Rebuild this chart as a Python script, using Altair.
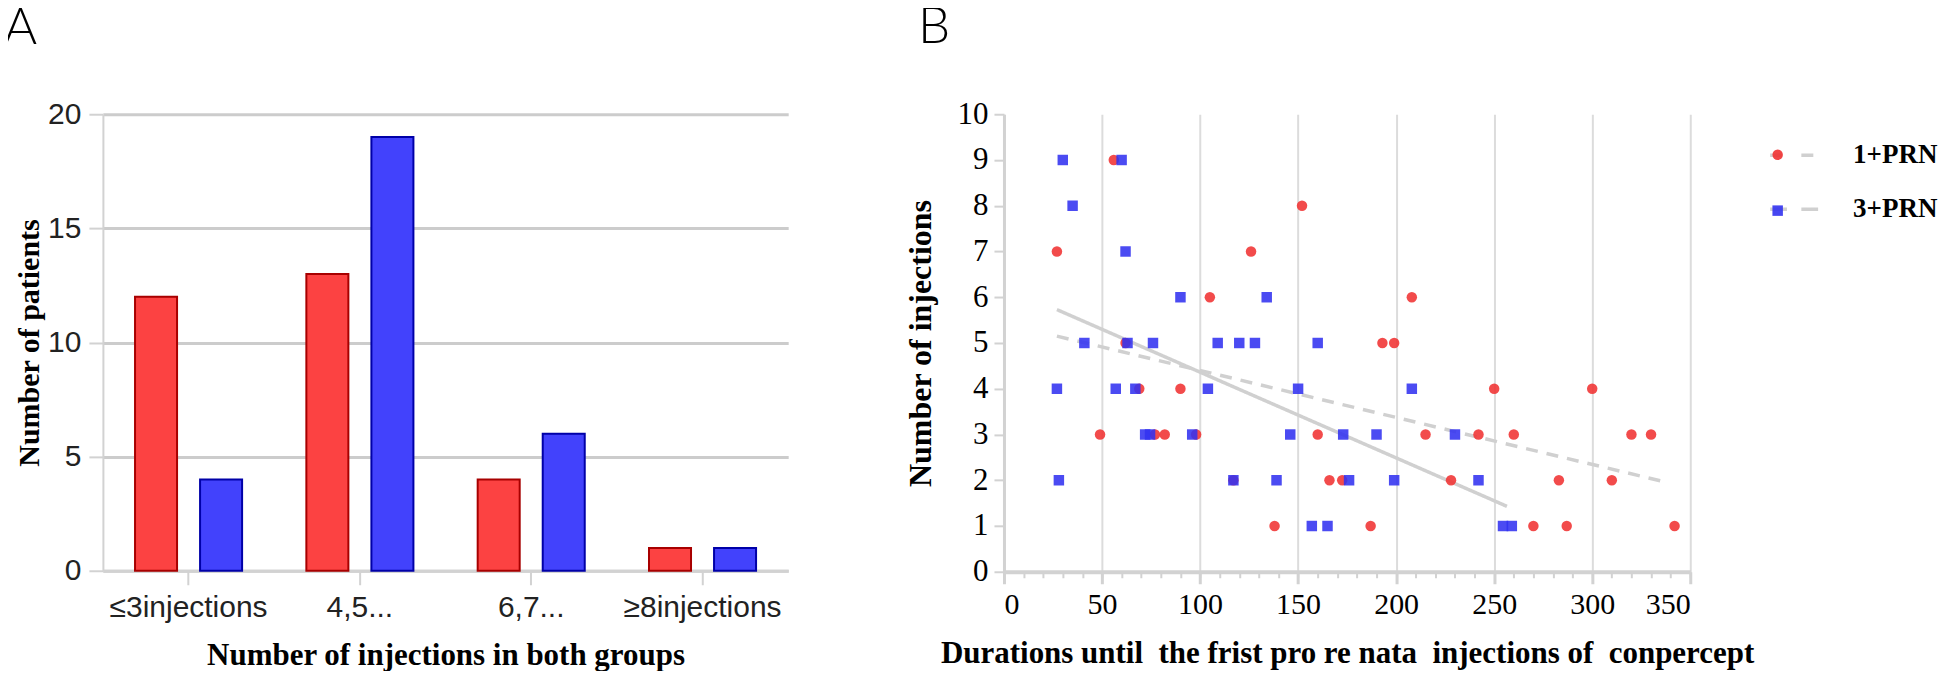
import altair as alt
import pandas as pd

# ---------------- data ----------------
categories = ["≤3injections", "4,5...", "6,7...", "≥8injections"]
groups = ["1+PRN", "3+PRN"]
patients_1prn = [12, 13, 4, 1]
patients_3prn = [4, 19, 6, 1]

days_1prn = [56, 152, 27, 126, 105, 208, 62, 193, 199, 69, 90, 250, 300,
             49, 77, 82, 98, 160, 215, 242, 260, 320, 330,
             117, 166, 172.5, 228, 283, 310, 138, 187, 270, 287, 342]
inj_1prn = [9, 8, 7, 7, 6, 6, 5, 5, 5, 4, 4, 4, 4,
            3, 3, 3, 3, 3, 3, 3, 3, 3, 3,
            2, 2, 2, 2, 2, 2, 1, 1, 1, 1, 1]
days_3prn = [30, 60, 35, 62, 90, 134, 41, 63, 76, 109, 120, 128, 160,
             27, 57, 67, 104, 150, 208, 72, 74.5, 96, 146, 173, 190, 230,
             28, 117, 139, 176, 199, 242, 157, 165, 254.5, 259]
inj_3prn = [9, 9, 8, 7, 6, 6, 5, 5, 5, 5, 5, 5, 5,
            4, 4, 4, 4, 4, 4, 3, 3, 3, 3, 3, 3, 3,
            2, 2, 2, 2, 2, 2, 1, 1, 1, 1]

trend_days_1prn = [27, 338.5]
trend_inj_1prn = [5.15, 1.95]
trend_days_3prn = [27, 256.5]
trend_inj_3prn = [5.73, 1.43]

x_major = [0, 50, 100, 150, 200, 250, 300, 350]
x_minor = list(range(0, 351, 10))
y_ticks_b = list(range(0, 11))
y_ticks_a = [0, 5, 10, 15, 20]

title_a_x = "Number of injections in both groups"
title_b_x = "Durations until\u00a0 the frist pro re nata\u00a0 injections of\u00a0 conpercept"

# ---------------- styles ----------------
serif = "Liberation Serif"
sans = "Liberation Sans"
grey = "#d2d2d2"

# ---------------- panel A ----------------
df_a = pd.DataFrame({
    "category": categories + categories,
    "group": [groups[0]] * len(categories) + [groups[1]] * len(categories),
    "patients": patients_1prn + patients_3prn,
})

panel_a = alt.Chart(df_a).mark_bar(strokeWidth=2).encode(
    x=alt.X("category:N", sort=categories,
            scale=alt.Scale(paddingInner=0, paddingOuter=0),
            axis=alt.Axis(title=title_a_x, labelAngle=0,
                          labelFont=sans, labelFontSize=30, labelColor="#222",
                          tickSize=14, tickColor=grey, tickWidth=2,
                          domainColor=grey, domainWidth=3, labelPadding=8,
                          titleFont=serif, titleFontWeight="bold", titleFontSize=31,
                          titleColor="#000", titlePadding=18, grid=False)),
    xOffset=alt.XOffset("group:N", sort=groups,
                        scale=alt.Scale(paddingInner=0.354, paddingOuter=0.494)),
    y=alt.Y("patients:Q", scale=alt.Scale(domain=[0, 20], nice=False),
            axis=alt.Axis(title="Number of patients", values=y_ticks_a,
                          labelFont=sans, labelFontSize=30, labelColor="#222",
                          tickSize=14, tickColor=grey, tickWidth=2,
                          domainColor=grey, domainWidth=2, labelPadding=8,
                          grid=True, gridColor="#cccccc", gridWidth=3,
                          titleFont=serif, titleFontWeight="bold", titleFontSize=30,
                          titleColor="#000", titlePadding=3)),
    fill=alt.Fill("group:N", scale=alt.Scale(domain=groups, range=["#fc4242", "#4242fc"]),
                  legend=None),
    stroke=alt.Stroke("group:N", scale=alt.Scale(domain=groups, range=["#a80000", "#0000a8"]),
                      legend=None),
).properties(
    width=686, height=457,
    title=alt.TitleParams("A", anchor="start", font="Lato", fontSize=51, fontWeight=300,
                          color="#000", offset=44, dx=-11),
)

# ---------------- panel B ----------------
df_pts = pd.DataFrame({
    "days": days_1prn + days_3prn,
    "inj": inj_1prn + inj_3prn,
    "group": [groups[0]] * len(days_1prn) + [groups[1]] * len(days_3prn),
})
df_trend = pd.DataFrame({
    "days": trend_days_1prn + trend_days_3prn,
    "inj": trend_inj_1prn + trend_inj_3prn,
    "trend": [groups[0]] * len(trend_days_1prn) + [groups[1]] * len(trend_days_3prn),
})

x_scale = alt.Scale(domain=[0, 350], nice=False, zero=False)
y_scale = alt.Scale(domain=[0, 10], nice=False)

y_axis_b = alt.Axis(title="Number of injections", values=y_ticks_b,
                    labelFont=serif, labelFontSize=31, labelColor="#000",
                    tickSize=10, tickColor=grey, tickWidth=2,
                    domainColor=grey, domainWidth=3, labelPadding=6, grid=False,
                    titleFont=serif, titleFontWeight="bold", titleFontSize=32,
                    titleColor="#000", titlePadding=20)

x_axis_major = alt.Axis(orient="bottom", title=title_b_x,
                        values=x_major, labelFont=serif, labelFontSize=30, labelColor="#000",
                        tickSize=12, tickColor=grey, tickWidth=3,
                        domainColor=grey, domainWidth=4, labelPadding=6,
                        grid=True, gridColor="#dcdcdc", gridWidth=2,
                        titleFont=serif, titleFontWeight="bold", titleFontSize=31,
                        titleColor="#000", titlePadding=19)
x_axis_minor = alt.Axis(orient="bottom", title=None, values=x_minor, labels=False,
                        tickSize=6, tickColor=grey, tickWidth=2, domain=False, grid=False)

legend_common = dict(title=None, orient="none", padding=0, labelFont=serif,
                     labelFontWeight="bold", labelFontSize=27, labelColor="#000",
                     values=groups)

# trend lines (dash legend: grey line symbols with the labels)
lines = alt.Chart(df_trend).mark_line(color="#d0d0d0", strokeWidth=3.5).encode(
    x=alt.X("days:Q", scale=x_scale, axis=x_axis_minor),
    y=alt.Y("inj:Q", scale=y_scale, axis=y_axis_b),
    strokeDash=alt.StrokeDash(
        "trend:N", scale=alt.Scale(range=[[12, 9], [1, 0]]),
        legend=alt.Legend(legendX=765, legendY=15, rowPadding=15,
                          symbolType="M-1,0L-0.3,0M0.3,0L1,0",
                          symbolSize=2304, symbolStrokeWidth=3.5,
                          symbolStrokeColor="#d0d0d0", symbolFillColor="transparent",
                          labelOffset=33, **legend_common)),
)

# points (shape/colour legend: markers only, placed in the gap of the line symbols)
pt_legend = alt.Legend(legendX=761, legendY=27, rowPadding=28, symbolSize=110,
                       symbolOpacity=0.9, symbolStrokeWidth=0, labelExpr="''",
                       **legend_common)
points = alt.Chart(df_pts).mark_point(filled=True, size=110, opacity=0.88).encode(
    x=alt.X("days:Q", scale=x_scale, axis=x_axis_major),
    y=alt.Y("inj:Q", scale=y_scale, axis=y_axis_b),
    color=alt.Color("group:N", scale=alt.Scale(domain=groups, range=["#f03232", "#3232f0"]),
                    legend=pt_legend),
    shape=alt.Shape("group:N", scale=alt.Scale(domain=groups, range=["circle", "square"]),
                    legend=pt_legend),
)

panel_b = alt.layer(lines, points).resolve_axis(x="independent").properties(
    width=687, height=458,
    title=alt.TitleParams("B", anchor="start", font="Lato", fontSize=51, fontWeight=300,
                          color="#000", offset=44, dx=14),
)

chart = alt.hconcat(panel_a, panel_b, spacing=116).resolve_scale(
    color="independent", shape="independent", strokeDash="independent"
).resolve_legend(
    color="independent", shape="independent", strokeDash="independent"
).properties(
    padding={"left": -5, "top": -6, "right": 0, "bottom": 0}
).configure_view(stroke=None)

chart.save("out.html", embed_options={"renderer": "svg", "actions": False})
